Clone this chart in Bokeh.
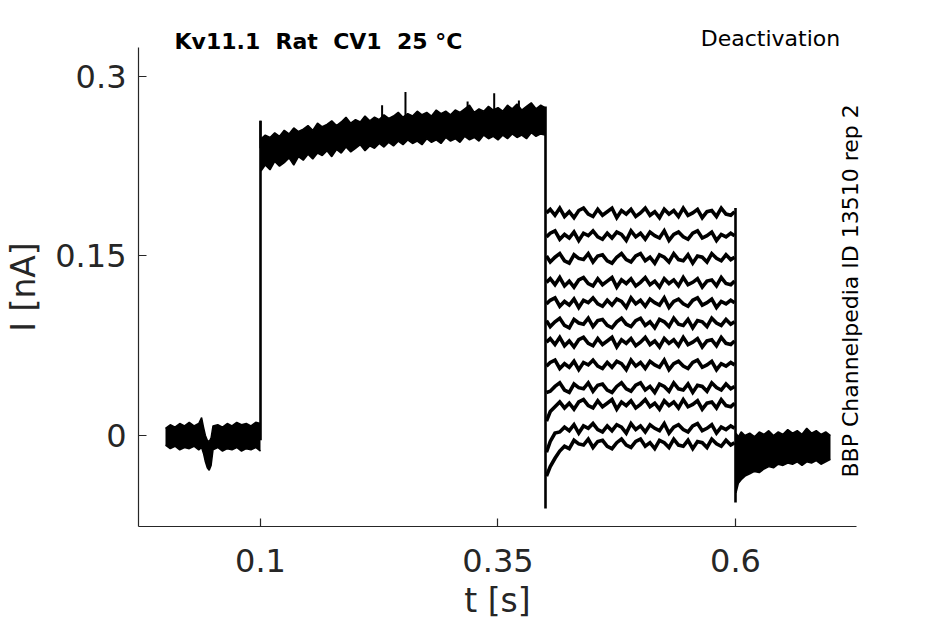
import numpy as np
from bokeh.plotting import figure
from bokeh.models import FixedTicker, Range1d, LinearAxis
from bokeh.embed import file_html
from bokeh.resources import INLINE

# ---------------- data ----------------
x_ticks = [0.1, 0.35, 0.6]
x_tick_labels = ["0.1", "0.35", "0.6"]
y_ticks = [0.0, 0.15, 0.3]
y_tick_labels = ["0", "0.15", "0.3"]

# the title keeps its double spacing (no-break space + space, so SVG does not collapse it)
title_text = "Kv11.1\u00a0 Rat\u00a0 CV1\u00a0 25 °C"
title_t = 0.1610          # centre of the title along t
protocol_text = "Deactivation"
protocol_t = 0.6368       # centre of the protocol name along t
id_text = "BBP Channelpedia ID 13510 rep 2"
id_I = -0.0351            # where the vertical identifier starts along I

# holding period: noise envelope of the overlapping sweeps [nA]
t_base = [0.000, 0.005, 0.010, 0.015, 0.020, 0.025, 0.030, 0.035, 0.038, 0.040,
          0.042, 0.044, 0.046, 0.048, 0.050, 0.055, 0.060, 0.065, 0.070, 0.075,
          0.080, 0.085, 0.090, 0.095, 0.100]
hi_base = [0.006, 0.009, 0.007, 0.010, 0.008, 0.011, 0.008, 0.010, 0.015, 0.007,
           0.000, -0.004, -0.005, -0.002, 0.008, 0.009, 0.007, 0.010, 0.008, 0.011,
           0.009, 0.010, 0.008, 0.011, 0.010]
lo_base = [-0.008, -0.011, -0.009, -0.012, -0.010, -0.011, -0.009, -0.012, -0.010, -0.015,
           -0.022, -0.027, -0.029, -0.025, -0.012, -0.010, -0.013, -0.011, -0.012, -0.010,
           -0.013, -0.011, -0.012, -0.010, -0.013]

# activating pre-pulse: envelope [nA]
t_pre = [0.1005,
         0.105, 0.110, 0.115, 0.120, 0.125, 0.130, 0.135, 0.140, 0.145, 0.150,
         0.155, 0.160, 0.165, 0.170, 0.175, 0.180, 0.185, 0.190, 0.195, 0.200,
         0.205, 0.210, 0.215, 0.220, 0.225, 0.230, 0.235, 0.240, 0.245, 0.250,
         0.255, 0.260, 0.265, 0.270, 0.275, 0.280, 0.285, 0.290, 0.295, 0.300,
         0.305, 0.310, 0.315, 0.320, 0.325, 0.330, 0.335, 0.340, 0.345, 0.350,
         0.355, 0.360, 0.365, 0.370, 0.375, 0.380, 0.385, 0.390, 0.395, 0.3995]
hi_pre = [0.248,
          0.251, 0.249, 0.253, 0.250, 0.255, 0.252, 0.257, 0.254, 0.256, 0.259,
          0.255, 0.261, 0.258, 0.260, 0.263, 0.259, 0.262, 0.266, 0.261, 0.264,
          0.262, 0.267, 0.263, 0.266, 0.264, 0.268, 0.265, 0.267, 0.270, 0.266,
          0.269, 0.267, 0.271, 0.268, 0.270, 0.267, 0.272, 0.269, 0.271, 0.268,
          0.272, 0.270, 0.273, 0.276, 0.270, 0.273, 0.271, 0.275, 0.272, 0.274,
          0.271, 0.276, 0.273, 0.277, 0.272, 0.275, 0.278, 0.273, 0.276, 0.274]
lo_pre = [0.221,
          0.226, 0.222, 0.229, 0.225, 0.228, 0.232, 0.226, 0.233, 0.230, 0.235,
          0.231, 0.236, 0.234, 0.238, 0.233, 0.239, 0.236, 0.241, 0.237, 0.240,
          0.243, 0.238, 0.242, 0.240, 0.244, 0.241, 0.245, 0.242, 0.246, 0.243,
          0.247, 0.244, 0.246, 0.243, 0.248, 0.245, 0.247, 0.244, 0.249, 0.246,
          0.248, 0.245, 0.250, 0.247, 0.249, 0.246, 0.251, 0.248, 0.250, 0.247,
          0.251, 0.248, 0.252, 0.249, 0.251, 0.248, 0.253, 0.250, 0.252, 0.251]

# isolated noise spikes on the pre-pulse
spike_t = [0.1000, 0.2280, 0.2526, 0.3180, 0.3460, 0.3720]
spike_base = [0.240, 0.262, 0.265, 0.268, 0.270, 0.270]
spike_top = [0.263, 0.276, 0.287, 0.279, 0.286, 0.280]

# voltage steps (vertical jumps) with capacitive transients
step_t = [0.1, 0.4, 0.6]
step_bottom = [-0.004, -0.061, -0.056]
step_top = [0.263, 0.275, 0.190]

# deactivation tails, one row per sweep [pA]
t_tail = [0.401,
          0.405, 0.410, 0.415, 0.420, 0.425,
          0.430, 0.435, 0.440, 0.445, 0.450,
          0.455, 0.460, 0.465, 0.470, 0.475,
          0.480, 0.485, 0.490, 0.495, 0.500,
          0.505, 0.510, 0.515, 0.520, 0.525,
          0.530, 0.535, 0.540, 0.545, 0.550,
          0.555, 0.560, 0.565, 0.570, 0.575,
          0.580, 0.585, 0.590, 0.595, 0.599]
tail_pA = [
    [186, 189, 184, 190, 183, 187, 182, 188, 190, 185, 183, 189, 184, 187, 190, 182, 188, 185, 189, 183,
     186, 190, 184, 187, 182, 189, 185, 188, 183, 190, 184, 186, 189, 182, 187, 188, 183, 190, 185, 184, 187],
    [166, 169, 171, 164, 168, 165, 170, 163, 169, 167, 171, 166, 164, 169, 165, 170, 168, 163, 171, 166,
     169, 164, 170, 167, 165, 171, 163, 168, 170, 166, 164, 169, 171, 165, 167, 170, 163, 168, 166, 169, 167],
    [150, 145, 149, 152, 146, 144, 151, 148, 147, 152, 145, 150, 151, 146, 144, 149, 152, 147, 145, 150,
     152, 146, 149, 144, 151, 149, 145, 152, 147, 146, 151, 144, 150, 149, 145, 152, 148, 146, 151, 147, 149],
    [128, 131, 126, 132, 125, 129, 124, 130, 132, 127, 125, 131, 126, 129, 132, 124, 130, 127, 131, 125,
     128, 132, 126, 129, 124, 131, 127, 130, 125, 132, 126, 128, 131, 124, 129, 130, 125, 132, 127, 126, 129],
    [110, 113, 115, 108, 112, 109, 114, 107, 113, 111, 115, 110, 108, 113, 109, 114, 112, 107, 115, 110,
     113, 108, 114, 111, 109, 115, 107, 112, 114, 110, 108, 113, 115, 109, 111, 114, 107, 112, 110, 113, 111],
    [96, 91, 95, 98, 92, 90, 97, 94, 93, 98, 91, 96, 97, 92, 90, 95, 98, 93, 91, 96,
     98, 92, 95, 90, 97, 95, 91, 98, 93, 92, 97, 90, 96, 95, 91, 98, 94, 92, 97, 93, 95],
    [78, 81, 76, 82, 75, 79, 74, 80, 82, 77, 75, 81, 76, 79, 82, 74, 80, 77, 81, 75,
     78, 82, 76, 79, 74, 81, 77, 80, 75, 82, 76, 78, 81, 74, 79, 80, 75, 82, 77, 76, 79],
    [58, 61, 63, 56, 60, 57, 62, 55, 61, 59, 63, 58, 56, 61, 57, 62, 60, 55, 63, 58,
     61, 56, 62, 59, 57, 63, 55, 60, 62, 58, 56, 61, 63, 57, 59, 62, 55, 60, 58, 61, 59],
    [36, 37, 41, 44, 38, 36, 43, 40, 39, 44, 37, 42, 43, 38, 36, 41, 44, 39, 37, 42,
     44, 38, 41, 36, 43, 41, 37, 44, 39, 38, 43, 36, 42, 41, 37, 44, 40, 38, 43, 39, 41],
    [12, 20, 24, 28, 23, 27, 22, 28, 30, 25, 23, 29, 24, 27, 30, 22, 28, 25, 29, 23,
     26, 30, 24, 27, 22, 29, 25, 28, 23, 30, 24, 26, 29, 22, 27, 28, 23, 30, 25, 24, 27],
    [-14, -5, 2, 3, 7, 4, 9, 2, 8, 6, 10, 5, 3, 8, 4, 9, 7, 2, 10, 5,
     8, 3, 9, 6, 4, 10, 2, 7, 9, 5, 3, 8, 10, 4, 6, 9, 2, 7, 5, 8, 6],
    [-34, -26, -19, -13, -9, -11, -4, -7, -8, -3, -10, -5, -4, -9, -11, -6, -3, -8, -10, -5,
     -3, -9, -6, -11, -4, -6, -10, -3, -8, -9, -4, -11, -5, -6, -10, -3, -7, -9, -4, -8, -6],
]

# return to holding: envelope [nA]
t_post = [0.6005, 0.603, 0.606, 0.610, 0.615, 0.620, 0.625, 0.630, 0.635, 0.640, 0.645,
          0.650, 0.655, 0.660, 0.665, 0.670, 0.675, 0.680, 0.685, 0.690, 0.695, 0.700]
hi_post = [0.002, -0.001, 0.003, 0.000, 0.002, -0.001, 0.003, 0.001, 0.004, 0.000, 0.003,
           0.001, 0.005, 0.002, 0.004, 0.001, 0.006, 0.002, 0.004, 0.001, 0.003, 0.000]
lo_post = [-0.048, -0.040, -0.037, -0.034, -0.032, -0.030, -0.031, -0.028, -0.026, -0.027, -0.024,
           -0.025, -0.023, -0.024, -0.022, -0.025, -0.022, -0.023, -0.021, -0.024, -0.022, -0.020]

# ---------------- figure ----------------
AX = "#262626"
p = figure(width=940, height=622, output_backend="svg", toolbar_location=None,
           x_range=Range1d(-0.02842, 0.72737), y_range=Range1d(-0.07604, 0.32422),
           min_border_left=138, min_border_right=84, min_border_top=47, min_border_bottom=96)
p.outline_line_color = None
p.xgrid.visible = False
p.ygrid.visible = False
p.background_fill_color = "white"
p.border_fill_color = "white"

for ax in (p.xaxis[0], p.yaxis[0]):
    ax.axis_line_color = AX
    ax.axis_line_width = 1.2
    ax.major_tick_line_color = AX
    ax.major_tick_line_width = 1.2
    ax.major_tick_in = 8
    ax.major_tick_out = 0
    ax.minor_tick_line_color = None
    ax.major_label_text_font = "DejaVu Sans"
    ax.major_label_text_font_size = "32px"
    ax.major_label_text_color = AX
    ax.axis_label_text_font = "DejaVu Sans"
    ax.axis_label_text_font_size = "33px"
    ax.axis_label_text_font_style = "normal"
    ax.axis_label_text_color = AX

p.xaxis.ticker = FixedTicker(ticks=x_ticks)
p.xaxis.major_label_overrides = {k: v for k, v in zip(x_ticks, x_tick_labels)}
p.xaxis.major_label_standoff = 22
p.xaxis.axis_label = "t [s]"
p.xaxis.axis_label_standoff = 6
p.yaxis.ticker = FixedTicker(ticks=y_ticks)
p.yaxis.major_label_overrides = {k: v for k, v in zip(y_ticks, y_tick_labels)}
p.yaxis.major_label_standoff = 12
p.yaxis.axis_label = "I [nA]"
p.yaxis.axis_label_standoff = 9


def text_axis(ticks, labels, standoff, size, style="normal", orientation="horizontal"):
    """An axis without line or ticks whose only content is a text placed at a data position."""
    return LinearAxis(ticker=FixedTicker(ticks=ticks),
                      major_label_overrides={k: v for k, v in zip(ticks, labels)},
                      major_label_standoff=standoff, major_label_orientation=orientation,
                      axis_line_color=None, major_tick_line_color=None, minor_tick_line_color=None,
                      major_tick_in=0, major_tick_out=0,
                      major_label_text_font="DejaVu Sans", major_label_text_font_size=size,
                      major_label_text_font_style=style, major_label_text_color="black")


p.add_layout(text_axis([title_t], [title_text], -6, "22px", style="bold"), "above")
p.add_layout(text_axis([protocol_t], [protocol_text], -25, "22px"), "above")
p.add_layout(text_axis([id_I], [id_text], -6, "22px", orientation=np.pi / 2), "right")

# traces
p.varea(x=t_base, y1=lo_base, y2=hi_base, color="black")
p.line(t_base, hi_base, color="black", line_width=1.5)
p.line(t_base, lo_base, color="black", line_width=1.5)
p.varea(x=t_pre, y1=lo_pre, y2=hi_pre, color="black")
p.line(t_pre, hi_pre, color="black", line_width=1.5)
p.line(t_pre, lo_pre, color="black", line_width=1.5)
p.segment(x0=spike_t, y0=spike_base, x1=spike_t, y1=spike_top, color="black", line_width=2)
p.segment(x0=step_t, y0=step_bottom, x1=step_t, y1=step_top, color="black", line_width=2.6)

tails_nA = [list(np.array(row) / 1000.0) for row in tail_pA]
p.multi_line(xs=[t_tail] * len(tails_nA), ys=tails_nA, color="black", line_width=3.6,
             line_join="miter")

p.varea(x=t_post, y1=lo_post, y2=hi_post, color="black")
p.line(t_post, hi_post, color="black", line_width=1.5)
p.line(t_post, lo_post, color="black", line_width=1.5)

open("out.html", "w").write(file_html(p, INLINE))
